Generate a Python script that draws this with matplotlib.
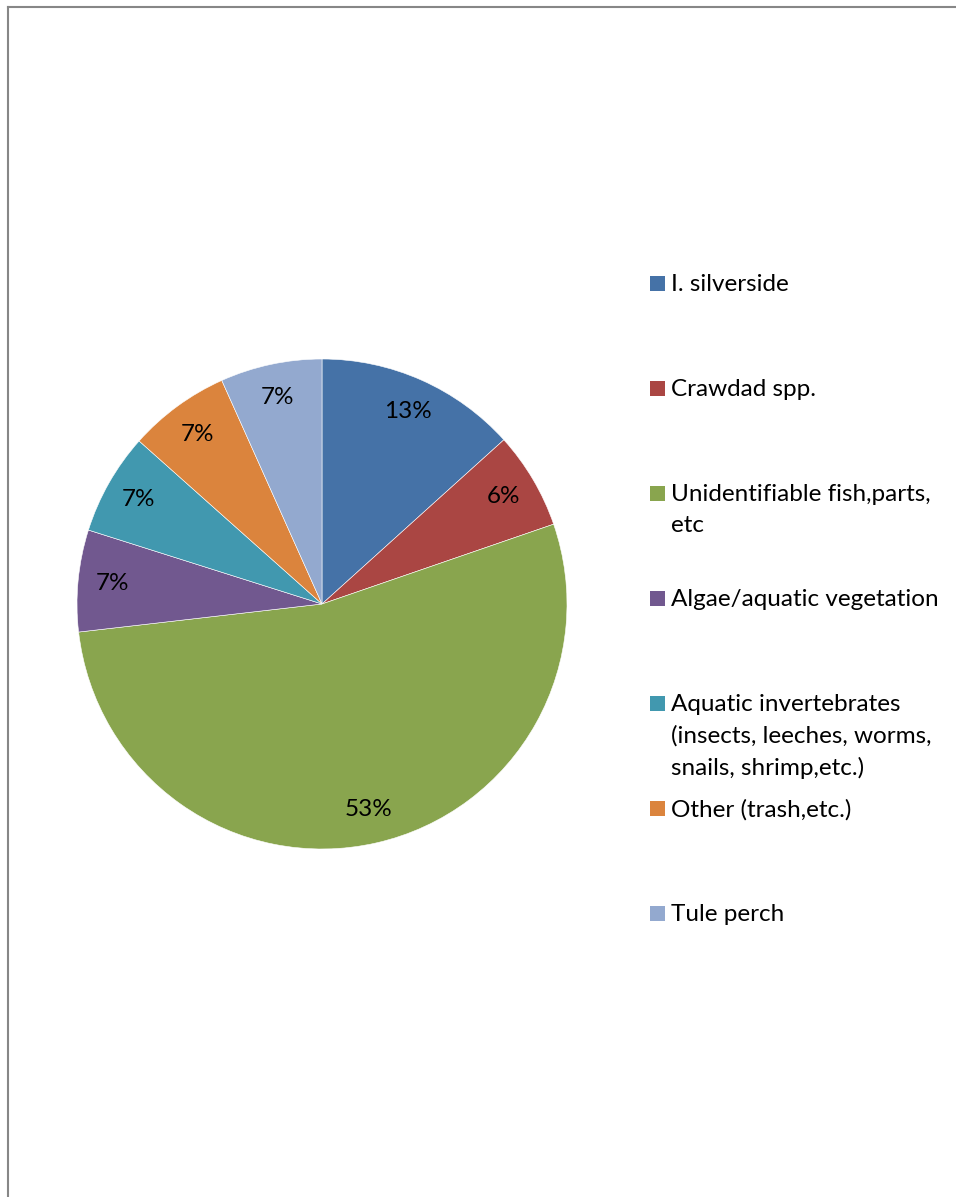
import matplotlib
matplotlib.use('Agg')
import matplotlib.pyplot as plt
from matplotlib.patches import Rectangle
from matplotlib.lines import Line2D

# data
categories = ['I. silverside', 'Crawdad spp.', 'Unidentifiable fish,parts,\netc',
              'Algae/aquatic vegetation',
              'Aquatic invertebrates\n(insects, leeches, worms,\nsnails, shrimp,etc.)',
              'Other (trash,etc.)', 'Tule perch']
shares = [13.3, 6.4, 53.4, 6.7, 6.7, 6.7, 6.7]
colors = ['#4572A7', '#AA4643', '#89A54E', '#71588F', '#4198AF', '#DB843D', '#93A9CF']

plt.rcParams['font.family'] = ['Lato', 'DejaVu Sans']

W, H = 956, 1197
fig = plt.figure(figsize=(W / 100, H / 100), dpi=100)

# pie: centre (322, 604), radius 245 px
cx, cy, r = 322, 604, 245
ax = fig.add_axes([(cx - r) / W, (H - cy - r) / H, 2 * r / W, 2 * r / H])
ax.pie(shares, colors=colors, startangle=90, counterclock=False,
       autopct=lambda p: '%d%%' % round(p), pctdistance=0.86,
       textprops={'fontsize': 17.5, 'color': 'black'},
       wedgeprops={'edgecolor': 'white', 'linewidth': 0.4})
ax.set_xlim(-1, 1)
ax.set_ylim(-1, 1)
ax.set_aspect('equal')
ax.axis('off')

# legend, one entry every 105 px
for i, (lab, col) in enumerate(zip(categories, colors)):
    y = 283 + 105 * i
    fig.patches.append(Rectangle((650 / W, 1 - (y + 8) / H), 15 / W, 15 / H,
                                 transform=fig.transFigure, facecolor=col,
                                 edgecolor='none'))
    fig.text(671 / W, 1 - (y - 9) / H, lab, fontsize=17.5, va='top', ha='left',
             linespacing=1.58)

# chart area border (top and left visible)
fig.lines.append(Line2D([8 / W, 1], [1 - 7 / H, 1 - 7 / H], transform=fig.transFigure,
                        color='#878787', linewidth=1.5))
fig.lines.append(Line2D([8 / W, 8 / W], [0, 1 - 7 / H], transform=fig.transFigure,
                        color='#878787', linewidth=1.5))

fig.savefig('out.png', dpi=100)
